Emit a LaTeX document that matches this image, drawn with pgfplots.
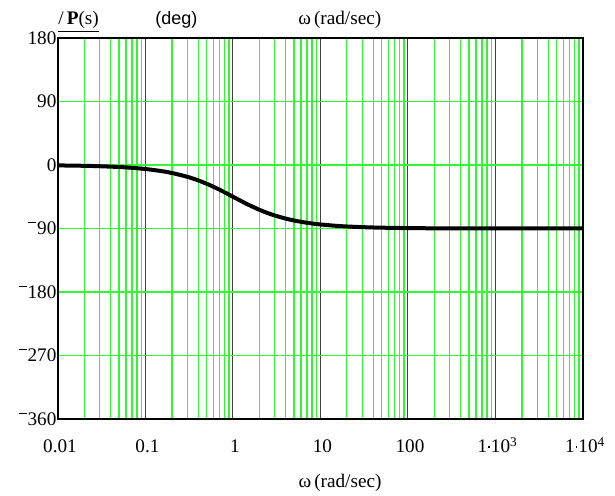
\documentclass[border=0pt]{standalone}
\usepackage{pgfplots}
\pgfplotsset{compat=1.18}
\usepackage{fontspec}
\setmainfont{Liberation Serif}
\newfontfamily\sansf{Liberation Sans}
\definecolor{gridgreen}{RGB}{50,248,50}
\newcommand\mm{\raisebox{0.6em}{\rule{0.42em}{0.055em}}\kern0.04em}
\newcommand\dotm{\kern0.05em\raisebox{0.28em}{\rule{0.1em}{0.1em}}\kern0.05em}
\begin{document}
\begin{tikzpicture}
\begin{axis}[
  scale only axis,
  width=393.75pt, height=285.75pt,
  xmode=log, log basis x=10,
  xmin=0.01, xmax=10000,
  ymin=-360, ymax=180,
  xtick={0.01,0.1,1,10,100,1000,10000},
  xticklabels={0.01,0.1,1,10,100,{1\dotm10\textsuperscript{3}},{1\dotm10\textsuperscript{4}}},
  minor xtick={0.02,0.03,0.04,0.05,0.06,0.07,0.08,0.09,
               0.2,0.3,0.4,0.5,0.6,0.7,0.8,0.9,
               2,3,4,5,6,7,8,9,
               20,30,40,50,60,70,80,90,
               200,300,400,500,600,700,800,900,
               2000,3000,4000,5000,6000,7000,8000,9000},
  ytick={-360,-270,-180,-90,0,90,180},
  yticklabels={\mm360,\mm270,\mm180,\mm90,0,90,180},
  minor ytick={-270,-180,-90,0,90},
  major tick length=0pt, minor tick length=0pt,
  xmajorgrids, xminorgrids, yminorgrids, ymajorgrids=false,
  minor grid style={gridgreen, line width=1pt},
  major grid style={black!75, line width=0.75pt},
  axis line style={line width=1.5pt},
  tick label style={font=\fontsize{14.4}{16}\selectfont},
  xticklabel style={anchor=base, yshift=-25.5pt, xshift=1.5pt},
  yticklabel style={anchor=east, inner xsep=1pt},
  clip=true,
]
\addplot[black, line width=3pt, smooth] coordinates {
(0.01,-0.57) (0.02,-1.15) (0.03,-1.72) (0.05,-2.86) (0.07,-4.00)
(0.1,-5.71) (0.15,-8.53) (0.2,-11.31) (0.3,-16.70) (0.4,-21.80)
(0.5,-26.57) (0.6,-30.96) (0.7,-34.99) (0.8,-38.66) (1,-45.00)
(1.25,-51.34) (1.5,-56.31) (2,-63.43) (2.5,-68.20) (3,-71.57)
(4,-75.96) (5,-78.69) (7,-81.87) (10,-84.29) (15,-86.19)
(20,-87.14) (30,-88.09) (50,-88.85) (100,-89.43) (200,-89.71)
(1000,-89.94) (10000,-89.99)
};
\end{axis}
\node[anchor=base west, inner sep=0pt, font=\fontsize{14.4}{16}\selectfont] at (0pt,295.5pt) {\underline{/\,\textbf{P}(s)}};
\node[anchor=base west, inner sep=0pt, font=\sansf\fontsize{13.5}{16}\selectfont] at (72.75pt,295.5pt) {(deg)};
\node[anchor=base west, inner sep=0pt, font=\fontsize{14.4}{16}\selectfont] at (180pt,295.5pt) {ω\,(rad/sec)};
\node[anchor=base, inner sep=0pt, font=\fontsize{14.4}{16}\selectfont] at (211.5pt,-51.75pt) {ω\,(rad/sec)};
\pgfresetboundingbox
\useasboundingbox (-43.5pt,-57.75pt) rectangle (417.75pt,314.25pt);
\end{tikzpicture}
\end{document}
